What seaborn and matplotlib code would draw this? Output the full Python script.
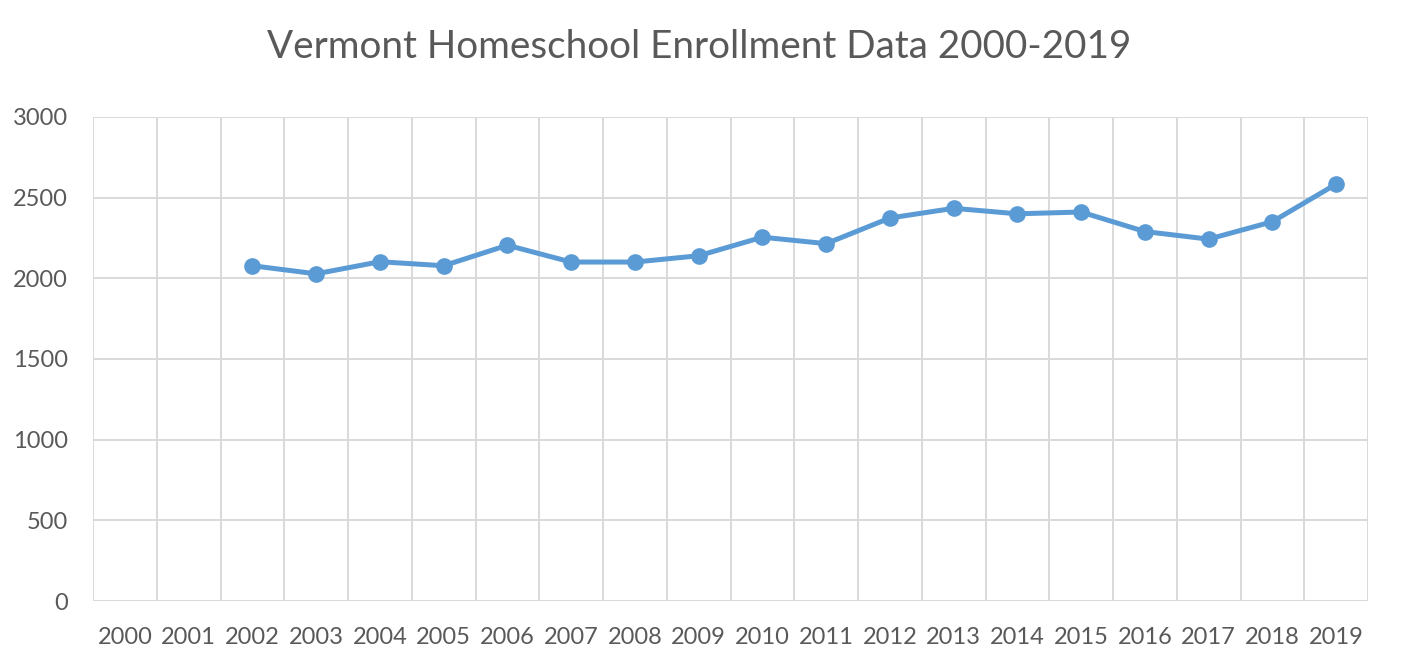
import pandas as pd
import matplotlib
matplotlib.use('Agg')
import matplotlib.pyplot as plt
import seaborn as sns
from matplotlib.ticker import FixedLocator

years = [str(y) for y in range(2000, 2020)]
data_years = [str(y) for y in range(2002, 2020)]
enrollment = [2078, 2028, 2103, 2078, 2205, 2101, 2101, 2140, 2255, 2215,
              2374, 2434, 2400, 2411, 2290, 2243, 2351, 2584]

df = pd.DataFrame({'Year': data_years, 'Enrollment': enrollment})
df['pos'] = df['Year'].map(lambda y: years.index(y))

sns.set_style('white')
plt.rcParams['font.family'] = ['Lato', 'DejaVu Sans']

text_color = '#595959'
grid_color = '#D9D9D9'
line_color = '#5B9BD5'

fig = plt.figure(figsize=(14.06, 6.68), dpi=100)
ax = fig.add_axes([93 / 1406, 1 - 601 / 668, (1368 - 93) / 1406, (601 - 117) / 668])

sns.lineplot(data=df, x='pos', y='Enrollment', ax=ax, color=line_color,
             linewidth=3.6, marker='o', markersize=12, markeredgewidth=0,
             zorder=3)

ax.set_xlim(-0.5, len(years) - 0.5)
ax.set_ylim(0, 3000)
ax.set_xticks(range(len(years)))
ax.set_xticklabels(years)
ax.xaxis.set_minor_locator(FixedLocator([i - 0.5 for i in range(len(years) + 1)]))
ax.set_yticks(range(0, 3001, 500))

ax.grid(False)
ax.grid(which='minor', axis='x', color=grid_color, linewidth=1.4)
ax.grid(which='major', axis='y', color=grid_color, linewidth=1.4)
ax.set_axisbelow(True)
for s in ax.spines.values():
    s.set_visible(False)

ax.tick_params(axis='both', which='both', length=0, colors=text_color, labelsize=17)
ax.tick_params(axis='y', pad=18)
ax.tick_params(axis='x', pad=19)
ax.set_xlabel('')
ax.set_ylabel('')

fig.text(0.497, 1 - 47 / 668, 'Vermont Homeschool Enrollment Data 2000-2019',
         ha='center', va='center', fontsize=27.8, color=text_color)

fig.savefig('out.png', dpi=100)
